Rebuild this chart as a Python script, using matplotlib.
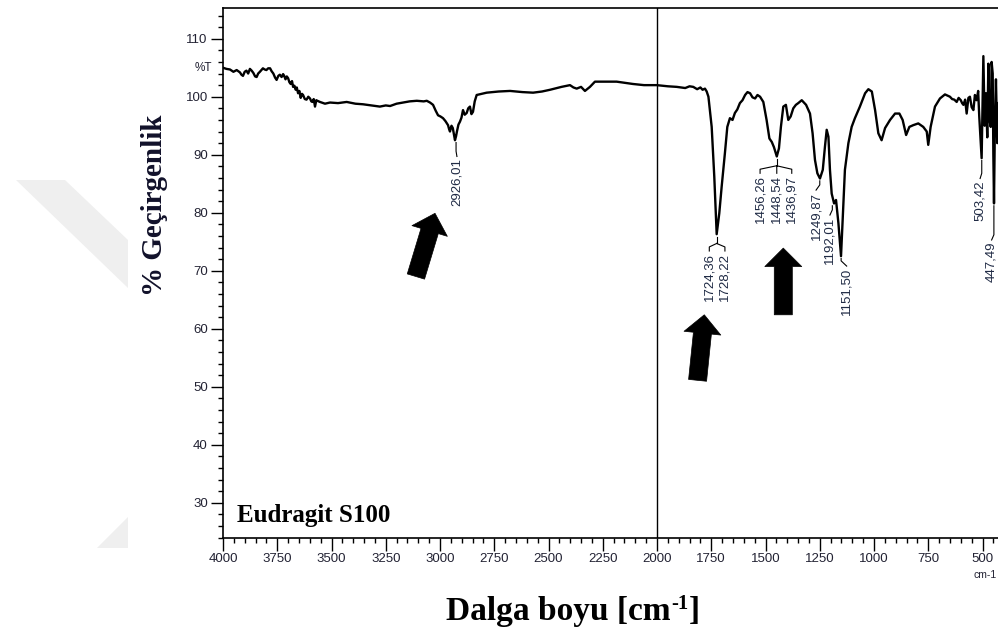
import numpy as np
import matplotlib
matplotlib.use("Agg")
import matplotlib.pyplot as plt
from matplotlib.ticker import MultipleLocator
from matplotlib.patches import Polygon


# FTIR spectrum of Eudragit S100 (wavenumber cm-1, % transmittance)
wavenumber = [
    4000, 3984, 3968, 3952, 3937, 3922, 3915, 3908, 3900, 3892,
    3884, 3876, 3868, 3860, 3852, 3845, 3838, 3830, 3823, 3816,
    3808, 3800, 3792, 3783, 3776, 3768, 3760, 3753, 3745, 3738,
    3730, 3723, 3718, 3712, 3706, 3700, 3694, 3688, 3682, 3677,
    3671, 3665, 3660, 3654, 3648, 3642, 3636, 3631, 3623, 3615,
    3607, 3599, 3593, 3588, 3582, 3576, 3570, 3565, 3553, 3530,
    3507, 3470, 3430, 3390, 3355, 3315, 3277, 3250, 3230, 3200,
    3170, 3140, 3107, 3075, 3061, 3046, 3032, 3020, 3009, 2998,
    2986, 2975, 2963, 2958, 2954, 2947, 2941, 2936, 2931, 2926,
    2922, 2915, 2908, 2901, 2894, 2886, 2877, 2870, 2862, 2855,
    2848, 2840, 2831, 2785, 2730, 2677, 2620, 2571, 2530, 2493,
    2440, 2401, 2385, 2370, 2350, 2332, 2309, 2286, 2186, 2111,
    2060, 2001, 1950, 1909, 1870, 1850, 1833, 1815, 1800, 1790,
    1779, 1771, 1763, 1748, 1736, 1725, 1713, 1702, 1687, 1676,
    1664, 1652, 1641, 1630, 1618, 1606, 1594, 1583, 1571, 1560,
    1548, 1537, 1525, 1510, 1495, 1482, 1471, 1461, 1448, 1438,
    1429, 1418, 1406, 1395, 1384, 1372, 1360, 1349, 1333, 1313,
    1295, 1283, 1272, 1261, 1249, 1236, 1226, 1218, 1210, 1203,
    1195, 1184, 1175, 1164, 1152, 1143, 1134, 1118, 1103, 1088,
    1065, 1041, 1026, 1010, 995, 980, 965, 949, 926, 903,
    883, 868, 852, 837, 819, 796, 773, 757, 750, 739,
    719, 696, 673, 650, 640, 630, 619, 610, 600, 594,
    588, 580, 573, 565, 558, 550, 542, 535, 527, 520,
    515, 508, 504, 500, 496, 490, 484, 478, 473, 468,
    462, 458, 453, 450, 447, 443, 438, 432, 425, 420,
]
transmittance = [
    105.0, 104.8, 104.7, 104.3, 104.6, 104.2, 103.8, 103.6, 104.3, 104.5,
    104.0, 104.8, 104.5, 104.1, 103.5, 103.4, 104.0, 104.3, 104.6, 104.9,
    104.7, 104.6, 104.9, 104.9, 104.4, 104.0, 103.3, 102.9, 103.6, 103.8,
    103.4, 103.9, 103.6, 103.0, 103.5, 103.2, 102.5, 102.2, 102.7, 101.7,
    101.9, 101.2, 101.6, 100.6, 101.0, 99.8, 100.5, 100.3, 99.6, 99.5,
    100.0, 99.7, 99.2, 99.1, 99.6, 98.3, 99.4, 99.3, 99.1, 98.8,
    99.0, 98.9, 99.1, 98.8, 98.7, 98.5, 98.3, 98.5, 98.4, 98.8,
    99.0, 99.2, 99.3, 99.2, 99.3, 99.0, 98.6, 97.6, 96.8, 96.6,
    96.3, 95.8, 95.1, 94.4, 94.0, 95.0, 94.6, 93.6, 92.5, 93.2,
    94.0, 95.2, 95.7, 96.4, 97.7, 96.9, 97.2, 98.0, 98.3, 97.0,
    97.4, 99.2, 100.3, 100.7, 100.9, 101.0, 100.8, 100.7, 100.9, 101.2,
    101.7, 102.0, 101.6, 101.4, 101.7, 101.0, 101.7, 102.6, 102.6, 102.2,
    102.0, 102.0, 101.8, 101.7, 101.5, 101.8, 101.7, 101.3, 101.6, 101.2,
    101.4, 100.9, 100.0, 94.8, 86.2, 76.3, 79.9, 84.5, 90.3, 94.8,
    96.3, 96.0, 97.2, 97.8, 98.9, 99.4, 100.3, 100.8, 100.6, 99.9,
    99.7, 100.3, 100.0, 99.1, 96.0, 92.8, 92.2, 91.3, 89.7, 91.1,
    94.8, 98.3, 98.6, 96.0, 96.6, 98.0, 98.6, 98.9, 99.4, 98.6,
    97.1, 93.7, 89.1, 86.8, 85.9, 87.4, 91.4, 94.3, 93.1, 87.4,
    83.3, 81.6, 82.2, 78.2, 72.5, 79.9, 87.4, 92.0, 94.8, 96.3,
    98.3, 100.6, 101.3, 100.9, 97.7, 93.7, 92.5, 94.6, 96.0, 97.1,
    97.1, 96.0, 93.4, 94.8, 95.1, 95.4, 94.8, 94.0, 91.7, 94.8,
    98.3, 99.7, 100.4, 100.0, 99.6, 99.5, 99.1, 99.8, 99.4, 98.9,
    98.6, 99.5, 97.1, 99.8, 100.0, 98.2, 97.7, 100.3, 99.4, 101.0,
    96.6, 92.0, 89.4, 98.0, 107.0, 95.0, 100.6, 93.0, 105.7, 96.0,
    94.8, 106.0, 104.0, 90.0, 81.6, 95.0, 103.0, 92.0, 99.0, 97.0,
]

# labelled peaks: groups sharing one leader
peak_groups = [
    (2926.01, 92.5, ["2926,01"]),
    (1725.0, 76.3, ["1724,36", "1728,22"]),
    (1448.54, 89.7, ["1456,26", "1448,54", "1436,97"]),
    (1249.87, 85.9, ["1249,87"]),
    (1192.01, 81.6, ["1192,01"]),
    (1151.50, 72.5, ["1151,50"]),
    (503.42, 89.4, ["503,42"]),
    (447.49, 81.6, ["447,49"]),
]
# where each group's labels sit (x of every label, y of label tops)
label_x = [[2922], [1759, 1687], [1525, 1448, 1379], [1267], [1203], [1126], [511], [458]]
label_top = [89.4, 73.1, 86.5, 83.6, 79.3, 70.5, 85.6, 75.0]

# block arrows pointing at the characteristic bands: (tail, tip)
arrows = [
    ((3111, 69.0), (3023, 79.9)),
    ((1813, 51.1), (1782, 62.4)),
    ((1418, 62.4), (1418, 73.9)),
]

W, H = 998, 635
fig = plt.figure(figsize=(W / 100, H / 100), dpi=100)

# faint watermark on the left margin
wm_color = "#efefef"
for pts in ([(16, 180), (65, 180), (128, 240), (128, 288)],
            [(97, 548), (128, 548), (128, 517)]):
    fig.patches.append(Polygon([(x / W, 1 - y / H) for x, y in pts],
                               closed=True, transform=fig.transFigure,
                               facecolor=wm_color, edgecolor="none", zorder=0))

ax = fig.add_axes([223 / W, 1 - 537.5 / H, 781.2 / W, 529.5 / H])
ax.set_xlim(4000, 400)
ax.set_ylim(24, 115.3)

ax.plot(wavenumber, transmittance, color="black", lw=1.7, zorder=3)
ax.axvline(2000, color="black", lw=1.0, zorder=2)

tick_color = "#222233"
sans = "Liberation Sans"
serif = "Liberation Serif"

ax.set_xticks(np.arange(4000, 499, -250))
ax.xaxis.set_minor_locator(MultipleLocator(50))
ax.set_yticks(np.arange(30, 111, 10))
ax.yaxis.set_minor_locator(MultipleLocator(2))
ax.tick_params(which="major", length=9, width=1.0, direction="out",
               labelsize=9.5, labelcolor=tick_color, pad=2)
ax.tick_params(which="minor", length=3.5, width=1.0, direction="out")
for lab in ax.get_xticklabels() + ax.get_yticklabels():
    lab.set_fontfamily(sans)
for sp in ax.spines.values():
    sp.set_linewidth(1.2)

ax.text(-0.014, (105 - 24) / (115.3 - 24), "%T", transform=ax.transAxes,
        ha="right", va="center", fontsize=8.5, color=tick_color, family=sans)

# peak labels with their leaders
for (px, py, labels), xs, top in zip(peak_groups, label_x, label_top):
    for txt, lx in zip(labels, xs):
        ax.text(lx, top, txt, rotation=90, ha="center", va="top",
                fontsize=9.5, color="#1f2a44", family=sans, zorder=4)
    if len(labels) == 1:
        ax.plot([px, px, xs[0]], [py - 0.4, top + 1.2, top + 0.3],
                color="black", lw=0.8, zorder=4)
    else:
        joint = top + 1.6
        ax.plot([px, px], [py - 0.4, joint], color="black", lw=0.8, zorder=4)
        for lx in xs:
            ax.plot([px, lx, lx], [joint, top + 1.0, top + 0.3],
                    color="black", lw=0.8, zorder=4)

for tail, tip in arrows:
    ax.annotate("", xy=tip, xytext=tail,
                arrowprops=dict(arrowstyle="simple,head_width=2.66,head_length=1.33,tail_width=1.3",
                                mutation_scale=10, fc="black", ec="black",
                                lw=0.5, shrinkA=0, shrinkB=0), zorder=5)

ax.text(3937, 26.7, "Eudragit S100", fontsize=18, fontweight="bold",
        family=serif, color="black", ha="left", va="baseline")

fig.text(973 / W, 1 - 575 / H, "cm-1", fontsize=7.5, color=tick_color,
         family=sans, ha="left", va="center")

fig.text(155 / W, 1 - 205 / H, "% Geçirgenlik", rotation=90, fontsize=21,
         fontweight="bold", family=serif, color="#11112a",
         ha="center", va="center")

# x-axis title built from pieces so the superscript keeps a plain hyphen
renderer = fig.canvas.get_renderer()
pieces = [("Dalga boyu [cm", 24, 0), ("-1", 15, 11), ("]", 24, 0)]
texts = []
for s, size, rise in pieces:
    t = fig.text(0, 0, s, fontsize=size, fontweight="bold", family=serif,
                 color="black", ha="left", va="baseline")
    texts.append((t, rise))
widths = [t.get_window_extent(renderer).width for t, _ in texts]
x_px = 573 - sum(widths) / 2
baseline_px = 620
for (t, rise), w in zip(texts, widths):
    t.set_position((x_px / W, 1 - (baseline_px - rise) / H))
    x_px += w

fig.savefig("out.png", dpi=100)
